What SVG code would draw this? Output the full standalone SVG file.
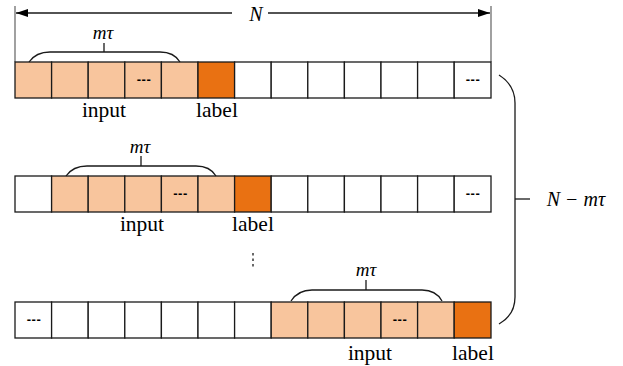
<svg xmlns="http://www.w3.org/2000/svg" width="623" height="366" viewBox="0 0 623 366">
  <style>
    .cell { stroke: #1a1a1a; stroke-width: 1.3; }
    .empty { fill: #ffffff; }
    .in { fill: #f8c59d; }
    .lab { fill: #e97112; }
    .line { fill: none; stroke: #1a1a1a; stroke-width: 1.3; }
    .ext { fill: none; stroke: #6e6e6e; stroke-width: 1.3; }
    .txt { font-family: "Liberation Serif", "DejaVu Serif", serif; fill: #000; }
    .it { font-style: italic; }
    .dots { font-family: "Liberation Sans", Arial, sans-serif; font-weight: bold; font-size: 13px; letter-spacing: 0.5px; fill: #000; }
  </style>
  <defs>
    <marker id="arrow" viewBox="0 0 12 8" refX="12" refY="4" markerWidth="12" markerHeight="8" markerUnits="userSpaceOnUse" orient="auto">
      <path d="M0,0 L12,4 L0,8 Z" fill="#000"/>
    </marker>
  </defs>

  <!-- total length N -->
  <g id="span-N">
    <line class="ext" x1="15" y1="6" x2="15" y2="62"/>
    <line class="ext" x1="491" y1="6" x2="491" y2="62"/>
    <line class="line" x1="232" y1="13" x2="16" y2="13" marker-end="url(#arrow)"/>
    <line class="line" x1="268" y1="13" x2="490" y2="13" marker-end="url(#arrow)"/>
    <text class="txt it" x="256" y="21" font-size="20" text-anchor="middle">N</text>
  </g>

  <!-- window 1 -->
  <g id="window-1">
    <rect class="cell in" x="15" y="62" width="36.6" height="36"/>
    <rect class="cell in" x="51.6" y="62" width="36.6" height="36"/>
    <rect class="cell in" x="88.2" y="62" width="36.6" height="36"/>
    <rect class="cell in" x="124.8" y="62" width="36.6" height="36"/>
    <rect class="cell in" x="161.4" y="62" width="36.6" height="36"/>
    <rect class="cell lab" x="198" y="62" width="36.6" height="36"/>
    <rect class="cell empty" x="234.6" y="62" width="36.6" height="36"/>
    <rect class="cell empty" x="271.2" y="62" width="36.6" height="36"/>
    <rect class="cell empty" x="307.8" y="62" width="36.6" height="36"/>
    <rect class="cell empty" x="344.4" y="62" width="36.6" height="36"/>
    <rect class="cell empty" x="381" y="62" width="36.6" height="36"/>
    <rect class="cell empty" x="417.6" y="62" width="36.6" height="36"/>
    <rect class="cell empty" x="454.2" y="62" width="36.8" height="36"/>
    <text class="dots" x="144" y="84" text-anchor="middle">---</text>
    <text class="dots" x="473" y="84" text-anchor="middle">---</text>
    <path class="line" d="M29,62 Q36,52 50,52 L160,52 Q174,52 180,62"/>
    <line class="line" x1="104" y1="43" x2="104" y2="52"/>
    <text class="txt it" x="103" y="39" font-size="19" text-anchor="middle">mτ</text>
    <text class="txt" x="104" y="117" font-size="21.5" text-anchor="middle">input</text>
    <text class="txt" x="217" y="117" font-size="21.5" text-anchor="middle">label</text>
  </g>

  <!-- window 2 -->
  <g id="window-2">
    <rect class="cell empty" x="15" y="176" width="36.6" height="36"/>
    <rect class="cell in" x="51.6" y="176" width="36.6" height="36"/>
    <rect class="cell in" x="88.2" y="176" width="36.6" height="36"/>
    <rect class="cell in" x="124.8" y="176" width="36.6" height="36"/>
    <rect class="cell in" x="161.4" y="176" width="36.6" height="36"/>
    <rect class="cell in" x="198" y="176" width="36.6" height="36"/>
    <rect class="cell lab" x="234.6" y="176" width="36.6" height="36"/>
    <rect class="cell empty" x="271.2" y="176" width="36.6" height="36"/>
    <rect class="cell empty" x="307.8" y="176" width="36.6" height="36"/>
    <rect class="cell empty" x="344.4" y="176" width="36.6" height="36"/>
    <rect class="cell empty" x="381" y="176" width="36.6" height="36"/>
    <rect class="cell empty" x="417.6" y="176" width="36.6" height="36"/>
    <rect class="cell empty" x="454.2" y="176" width="36.8" height="36"/>
    <text class="dots" x="180.5" y="198" text-anchor="middle">---</text>
    <text class="dots" x="473" y="198" text-anchor="middle">---</text>
    <path class="line" d="M66,176 Q73,166 87,166 L196,166 Q210,166 216,176"/>
    <line class="line" x1="141" y1="156" x2="141" y2="166"/>
    <text class="txt it" x="140" y="153" font-size="19" text-anchor="middle">mτ</text>
    <text class="txt" x="142" y="231" font-size="21.5" text-anchor="middle">input</text>
    <text class="txt" x="253" y="231" font-size="21.5" text-anchor="middle">label</text>
  </g>

  <!-- vertical ellipsis between windows -->
  <line class="line" x1="253" y1="253" x2="253" y2="268" stroke-width="2" stroke-dasharray="2.5,3"/>

  <!-- last window -->
  <g id="window-3">
    <rect class="cell empty" x="15" y="302" width="36.6" height="36"/>
    <rect class="cell empty" x="51.6" y="302" width="36.6" height="36"/>
    <rect class="cell empty" x="88.2" y="302" width="36.6" height="36"/>
    <rect class="cell empty" x="124.8" y="302" width="36.6" height="36"/>
    <rect class="cell empty" x="161.4" y="302" width="36.6" height="36"/>
    <rect class="cell empty" x="198" y="302" width="36.6" height="36"/>
    <rect class="cell empty" x="234.6" y="302" width="36.6" height="36"/>
    <rect class="cell in" x="271.2" y="302" width="36.6" height="36"/>
    <rect class="cell in" x="307.8" y="302" width="36.6" height="36"/>
    <rect class="cell in" x="344.4" y="302" width="36.6" height="36"/>
    <rect class="cell in" x="381" y="302" width="36.6" height="36"/>
    <rect class="cell in" x="417.6" y="302" width="36.6" height="36"/>
    <rect class="cell lab" x="454.2" y="302" width="36.8" height="36"/>
    <text class="dots" x="34" y="324" text-anchor="middle">---</text>
    <text class="dots" x="400" y="324" text-anchor="middle">---</text>
    <path class="line" d="M291,301 Q298,290 312,290 L422,290 Q436,290 442,301"/>
    <line class="line" x1="366" y1="280" x2="366" y2="290"/>
    <text class="txt it" x="366" y="276" font-size="19" text-anchor="middle">mτ</text>
    <text class="txt" x="370" y="360" font-size="21.5" text-anchor="middle">input</text>
    <text class="txt" x="473" y="360" font-size="21.5" text-anchor="middle">label</text>
  </g>

  <!-- number of windows N - mτ -->
  <g id="span-count">
    <path class="line" d="M499,75 Q515,85 515,103 L515,297 Q515,315 499,324"/>
    <line class="line" x1="515" y1="199" x2="530" y2="199"/>
    <text class="txt it" x="576" y="206" font-size="20" text-anchor="middle">N − mτ</text>
  </g>
</svg>
